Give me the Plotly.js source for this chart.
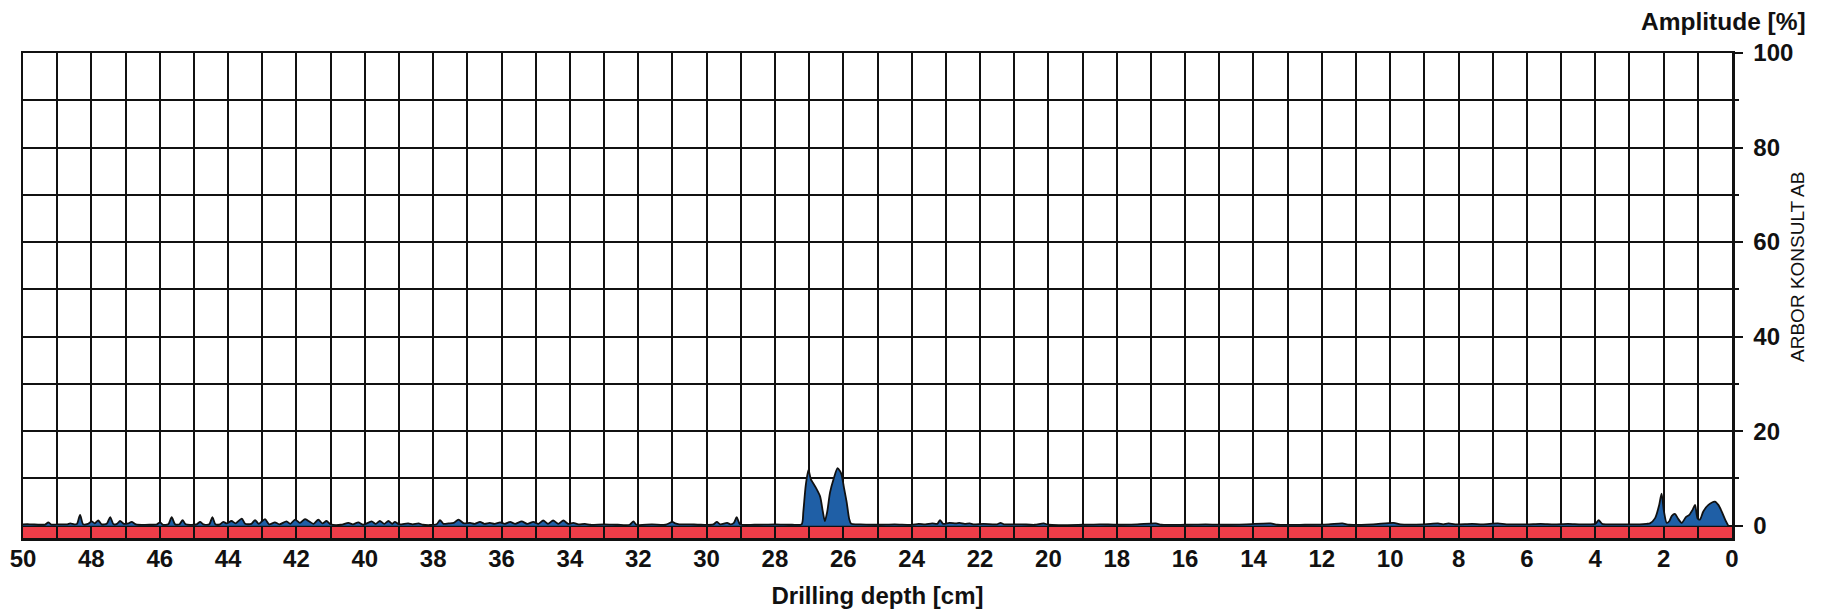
<!DOCTYPE html>
<html>
<head>
<meta charset="utf-8">
<script src="https://cdn.plot.ly/plotly-3.0.1.min.js"></script>
<style>html,body{margin:0;padding:0;background:#fff;}#chart{width:1827px;height:613px;}</style>
</head>
<body>
<div id="chart"></div>
<script>
// Drilling depth [cm]
const depth = [
50.0,49.8,49.5,49.35,49.26,49.17,48.9,48.7,48.62,48.5,48.42,48.33,48.24,48.1,47.99,47.9,47.8,47.7,47.55,47.45,47.35,47.25,47.16,47.05,46.92,46.82,46.7,46.3,46.08,45.99,45.9,45.75,45.65,45.55,45.42,45.33,45.24,44.92,44.82,44.72,44.55,44.46,44.37,44.24,44.14,44.04,43.9,43.78,43.6,43.5,43.32,43.21,43.1,42.92,42.8,42.63,42.5,42.29,42.18,42.04,41.9,41.75,41.65,41.5,41.36,41.24,41.12,41.0,40.7,40.48,40.35,40.19,40.05,39.8,39.68,39.56,39.43,39.31,39.2,39.12,39.0,38.73,38.6,38.43,38.3,37.9,37.8,37.7,37.55,37.4,37.26,37.1,36.92,36.78,36.63,36.5,36.34,36.2,36.04,35.9,35.75,35.6,35.41,35.25,35.07,34.92,34.78,34.64,34.49,34.34,34.19,34.05,33.9,33.75,33.56,33.4,33.0,32.6,32.25,32.14,32.05,31.6,31.2,31.0,30.92,30.8,30.5,30.2,29.8,29.7,29.6,29.4,29.3,29.2,29.12,29.02,28.6,28.0,27.5,27.22,27.17,27.1,27.02,26.95,26.89,26.8,26.68,26.6,26.54,26.47,26.39,26.28,26.17,26.1,26.05,25.98,25.9,25.83,25.77,25.5,25.0,24.5,24.0,23.8,23.6,23.4,23.25,23.17,23.08,22.9,22.7,22.6,22.45,22.3,22.2,21.9,21.5,21.4,21.3,20.8,20.4,20.14,20.0,19.0,18.5,18.0,17.4,16.86,16.7,16.0,15.4,14.8,14.2,13.5,13.3,12.5,11.8,11.4,11.2,10.5,9.9,9.7,9.0,8.6,8.45,8.3,8.1,7.6,7.3,6.85,6.6,6.0,5.6,5.2,4.8,4.4,4.0,3.9,3.8,3.5,3.0,2.7,2.5,2.4,2.25,2.13,2.06,1.99,1.91,1.83,1.76,1.67,1.57,1.47,1.35,1.25,1.15,1.08,1.01,0.94,0.84,0.69,0.5,0.4,0.3,0.2,0.11
];
// Amplitude [%]
const amplitude = [
0.3,0.3,0.2,0.25,0.7,0.25,0.3,0.3,0.5,0.3,0.4,2.3,0.3,0.4,0.9,0.5,1.1,0.3,0.4,1.8,0.3,0.4,1.0,0.4,0.5,0.8,0.3,0.2,0.3,0.7,0.2,0.3,1.8,0.3,0.3,1.2,0.3,0.3,0.8,0.3,0.3,1.8,0.3,0.3,0.8,0.5,1.0,0.5,1.5,0.4,0.4,1.2,0.4,1.4,0.3,0.7,0.3,0.9,0.4,1.3,0.6,1.4,1.0,0.4,1.3,0.5,1.0,0.3,0.2,0.6,0.3,0.7,0.2,0.9,0.4,1.0,0.4,1.0,0.4,0.8,0.3,0.5,0.3,0.5,0.2,0.3,1.2,0.4,0.5,0.6,1.3,0.5,0.6,0.4,0.8,0.4,0.6,0.4,0.7,0.4,0.8,0.4,0.9,0.4,0.8,0.4,1.1,0.4,1.1,0.4,1.1,0.4,0.6,0.3,0.4,0.2,0.3,0.2,0.2,0.9,0.2,0.3,0.2,0.8,0.5,0.3,0.3,0.2,0.3,0.8,0.3,0.6,0.3,0.6,1.8,0.3,0.2,0.3,0.2,0.3,3.0,8.5,11.8,9.8,9.1,8.0,6.2,3.0,1.0,3.0,7.0,10.0,12.2,11.6,10.8,8.0,4.9,1.5,0.4,0.3,0.2,0.3,0.2,0.4,0.3,0.5,0.4,1.2,0.4,0.6,0.5,0.6,0.4,0.5,0.3,0.4,0.3,0.6,0.3,0.3,0.2,0.5,0.2,0.2,0.3,0.2,0.3,0.5,0.2,0.2,0.3,0.2,0.3,0.5,0.2,0.2,0.3,0.5,0.2,0.3,0.6,0.3,0.3,0.5,0.3,0.5,0.3,0.4,0.3,0.5,0.3,0.3,0.4,0.3,0.4,0.3,0.4,1.2,0.4,0.3,0.3,0.3,0.4,0.5,1.6,4.4,6.8,3.0,0.6,1.0,2.1,2.5,1.4,0.6,1.8,2.3,3.4,4.4,1.6,1.3,3.0,4.4,5.1,4.4,3.0,1.3,0.0
];
const xTickVals = [50,48,46,44,42,40,38,36,34,32,30,28,26,24,22,20,18,16,14,12,10,8,6,4,2,0];
const yTickVals = [0,20,40,60,80,100];

const FONT = 'Liberation Sans, Arial, sans-serif';

const trace = {
  x: depth, y: amplitude, type: 'scatter', mode: 'lines',
  line: {color: '#111', width: 1.8, shape: 'spline', smoothing: 0.7},
  fill: 'tozeroy', fillcolor: '#1f5fa6', hoverinfo: 'skip'
};

const layout = {
  width: 1827, height: 613,
  margin: {l: 23, r: 95, t: 53, b: 75},
  paper_bgcolor: '#fff', plot_bgcolor: '#fff',
  showlegend: false,
  font: {family: FONT, color: '#111'},
  xaxis: {
    range: [50, 0], tickvals: xTickVals, ticktext: xTickVals.map(String),
    showgrid: true, gridcolor: '#111', gridwidth: 2,
    ticks: 'inside', ticklen: 12, tickwidth: 2, tickcolor: '#111',
    minor: {dtick: 1, tick0: 0, showgrid: true, gridcolor: '#111', gridwidth: 2, ticks: 'inside', ticklen: 6, tickwidth: 2, tickcolor: '#111'},
    showline: true, linecolor: '#111', linewidth: 2.5, mirror: true,
    zeroline: false,
    tickfont: {family: FONT, size: 24, color: '#111', weight: 'bold'},
    ticklabelstandoff: -2,
    title: {text: '<b>Drilling depth [cm]</b>', font: {family: FONT, size: 24, color: '#111'}, standoff: 16}
  },
  yaxis: {
    range: [-2.6, 100], side: 'right', tickvals: yTickVals, ticktext: yTickVals.map(String),
    showgrid: true, gridcolor: '#111', gridwidth: 2,
    ticks: 'outside', ticklen: 8, tickwidth: 2, tickcolor: '#111',
    minor: {dtick: 10, tick0: 0, showgrid: true, gridcolor: '#111', gridwidth: 2, ticks: 'outside', ticklen: 4, tickwidth: 2, tickcolor: '#111'},
    showline: true, linecolor: '#111', linewidth: 2.5, mirror: true,
    zeroline: false,
    tickfont: {family: FONT, size: 24, color: '#111', weight: 'bold'},
    ticklabelstandoff: 6
  },
  shapes: [{
    type: 'rect', xref: 'paper', yref: 'y', x0: 0, x1: 1, y0: -2.6, y1: 0,
    fillcolor: '#ee3d48', line: {width: 0}, layer: 'between'
  }],
  annotations: [
    {text: '<b>Amplitude [%]</b>', xref: 'paper', yref: 'paper', x: 1.0445, y: 1.064, xanchor: 'right', yanchor: 'middle', showarrow: false, font: {family: FONT, size: 24.5, color: '#111'}},
    {text: 'ARBOR KONSULT AB', xref: 'paper', yref: 'paper', x: 1.0386, y: 0.5588, xanchor: 'center', yanchor: 'middle', textangle: -90, showarrow: false, font: {family: FONT, size: 19, color: '#111'}}
  ]
};

Plotly.newPlot('chart', [trace], layout, {displayModeBar: false, staticPlot: true});
</script>
</body>
</html>
